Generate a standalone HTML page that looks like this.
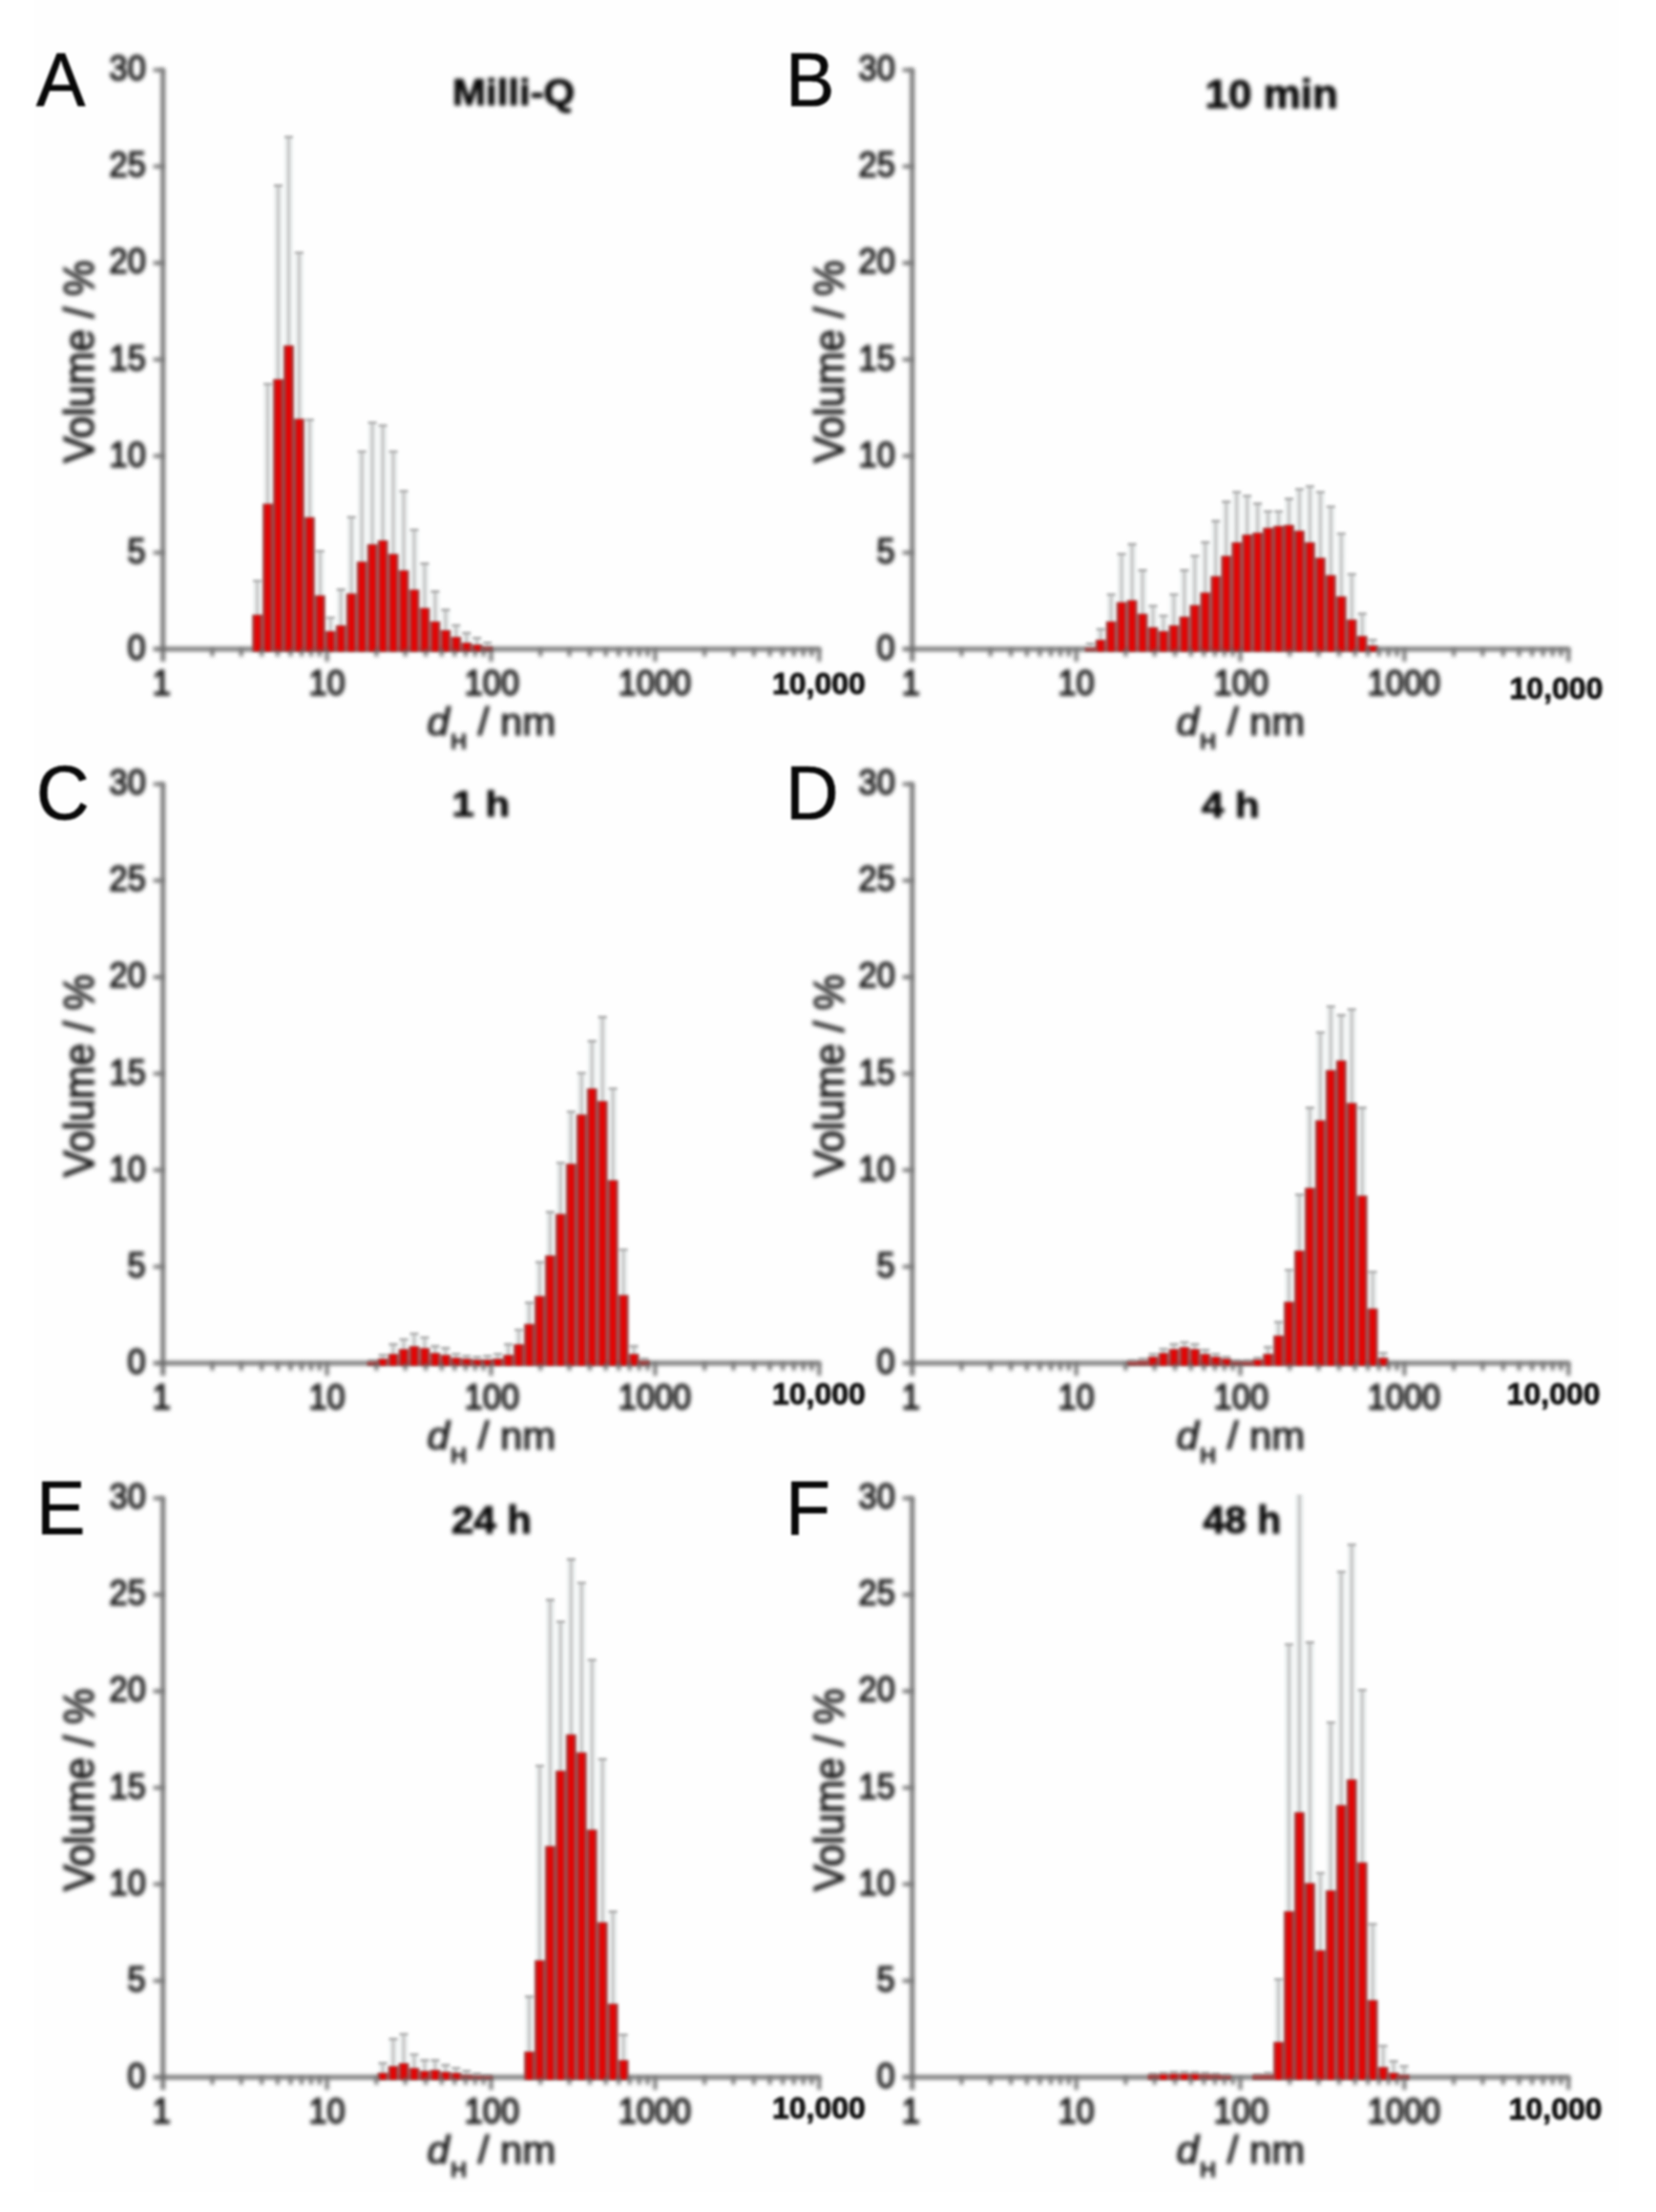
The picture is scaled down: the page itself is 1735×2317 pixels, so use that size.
<!DOCTYPE html>
<html lang="en"><head><meta charset="utf-8"><title>Figure</title>
<style>
html,body{margin:0;padding:0;background:#fff;}
body{width:1735px;height:2317px;overflow:hidden;}
svg{display:block;font-family:"Liberation Sans",sans-serif;}
.soft{filter:blur(2px);}
.bars{filter:blur(1.5px);}
.med{filter:blur(1.4px);}
.crisp{filter:blur(0.9px);}
</style></head><body>
<svg width="1735" height="2317" viewBox="0 0 1735 2317">
<rect x="0" y="0" width="1735" height="2317" fill="#ffffff"/>
<rect x="36" y="0" width="1660" height="2296" fill="#fefefe"/>
<g class="soft">
<path d="M170.7 71.8V692.9M160.7 679.9H859.8" stroke="#6a6a6a" stroke-width="4.4" fill="none"/>
<path d="M955.7 71.8V692.9M945.7 679.9H1644.8" stroke="#6a6a6a" stroke-width="4.4" fill="none"/>
<path d="M170.7 819.8V1440.9M160.7 1427.9H859.8" stroke="#6a6a6a" stroke-width="4.4" fill="none"/>
<path d="M955.7 819.8V1440.9M945.7 1427.9H1644.8" stroke="#6a6a6a" stroke-width="4.4" fill="none"/>
<path d="M170.7 1567.8V2188.9M160.7 2175.9H859.8" stroke="#6a6a6a" stroke-width="4.4" fill="none"/>
<path d="M955.7 1567.8V2188.9M945.7 2175.9H1644.8" stroke="#6a6a6a" stroke-width="4.4" fill="none"/>
</g>
<g class="bars">
<path d="M269.58 644.51V607.53M280.54 528.25V401.29M291.5 397.83V193.42M302.46 362.45V142.47M313.42 439.28V263.79M324.38 542.4V438.69M335.34 624.29V576.19M346.3 661.7V645.95M357.26 655.64V616.63M368.22 622.27V540.8M379.18 588.91V472.06M390.14 570.71V441.73M401.1 566.67V444.76M412.05 580.82V472.06M423.01 598.01V513.51M433.97 618.23V553.95M444.93 637.44V589.33M455.89 651.59V618.65M466.85 660.69V637.86M477.81 667.77V654.04M488.77 673.83V662.12M499.73 675.86V667.18M510.69 677.88V672.23" stroke="#e2e8e8" stroke-width="9" fill="none" opacity="0.65"/>
<path d="M269.58 644.51V607.53M280.54 528.25V401.29M291.5 397.83V193.42M302.46 362.45V142.47M313.42 439.28V263.79M324.38 542.4V438.69M335.34 624.29V576.19M346.3 661.7V645.95M357.26 655.64V616.63M368.22 622.27V540.8M379.18 588.91V472.06M390.14 570.71V441.73M401.1 566.67V444.76M412.05 580.82V472.06M423.01 598.01V513.51M433.97 618.23V553.95M444.93 637.44V589.33M455.89 651.59V618.65M466.85 660.69V637.86M477.81 667.77V654.04M488.77 673.83V662.12M499.73 675.86V667.18M510.69 677.88V672.23" stroke="#c9c9c9" stroke-width="3.4" fill="none"/>
<path d="M265.08 608.53H274.08M276.04 402.29H285.04M287 194.42H296M297.96 143.47H306.96M308.92 264.79H317.92M319.88 439.69H328.88M330.84 577.19H339.84M341.8 646.95H350.8M352.76 617.63H361.76M363.72 541.8H372.72M374.68 473.06H383.68M385.64 442.73H394.64M396.6 445.76H405.6M407.55 473.06H416.55M418.51 514.51H427.51M429.47 554.95H438.47M440.43 590.33H449.43M451.39 619.65H460.39M462.35 638.86H471.35M473.31 655.04H482.31M484.27 663.12H493.27M495.23 668.18H504.23M506.19 673.23H515.19" stroke="#adadad" stroke-width="2.6" fill="none"/>
<g fill="#a04242"><rect x="264.1" y="643.81" width="10.96" height="38.48"/><rect x="275.06" y="527.55" width="10.96" height="154.75"/><rect x="286.02" y="397.13" width="10.96" height="285.17"/><rect x="296.98" y="361.75" width="10.96" height="320.55"/><rect x="307.94" y="438.58" width="10.96" height="243.72"/><rect x="318.9" y="541.7" width="10.96" height="140.6"/><rect x="329.86" y="623.6" width="10.96" height="58.7"/><rect x="340.82" y="661" width="10.96" height="21.3"/><rect x="351.78" y="654.94" width="10.96" height="27.36"/><rect x="362.74" y="621.57" width="10.96" height="60.73"/><rect x="373.7" y="588.21" width="10.96" height="94.09"/><rect x="384.66" y="570.01" width="10.96" height="112.29"/><rect x="395.62" y="565.97" width="10.96" height="116.33"/><rect x="406.57" y="580.12" width="10.96" height="102.18"/><rect x="417.53" y="597.31" width="10.96" height="84.99"/><rect x="428.49" y="617.53" width="10.96" height="64.77"/><rect x="439.45" y="636.74" width="10.96" height="45.56"/><rect x="450.41" y="650.89" width="10.96" height="31.41"/><rect x="461.37" y="659.99" width="10.96" height="22.31"/><rect x="472.33" y="667.07" width="10.96" height="15.23"/><rect x="483.29" y="673.13" width="10.96" height="9.17"/><rect x="494.25" y="675.16" width="10.96" height="7.14"/><rect x="505.21" y="677.18" width="10.96" height="5.12"/></g>
<g fill="#e40404"><rect x="266.63" y="644.61" width="5.9" height="37.69"/><rect x="277.59" y="528.35" width="5.9" height="153.95"/><rect x="288.55" y="397.93" width="5.9" height="284.37"/><rect x="299.51" y="362.55" width="5.9" height="319.75"/><rect x="310.47" y="439.38" width="5.9" height="242.92"/><rect x="321.43" y="542.5" width="5.9" height="139.8"/><rect x="332.39" y="624.39" width="5.9" height="57.91"/><rect x="343.35" y="661.8" width="5.9" height="20.5"/><rect x="354.31" y="655.74" width="5.9" height="26.56"/><rect x="365.27" y="622.37" width="5.9" height="59.93"/><rect x="376.23" y="589.01" width="5.9" height="93.29"/><rect x="387.19" y="570.81" width="5.9" height="111.49"/><rect x="398.15" y="566.77" width="5.9" height="115.53"/><rect x="409.1" y="580.92" width="5.9" height="101.38"/><rect x="420.06" y="598.11" width="5.9" height="84.19"/><rect x="431.02" y="618.33" width="5.9" height="63.97"/><rect x="441.98" y="637.54" width="5.9" height="44.76"/><rect x="452.94" y="651.69" width="5.9" height="30.61"/><rect x="463.9" y="660.79" width="5.9" height="21.51"/><rect x="474.86" y="667.87" width="5.9" height="14.43"/><rect x="485.82" y="673.93" width="5.9" height="8.37"/><rect x="496.78" y="675.96" width="5.9" height="6.34"/></g>
<path d="M1142.26 678.89V673.25M1153.22 670.8V658.08M1164.18 651.59V621.68M1175.14 631.37V579.22M1186.1 629.35V569.11M1197.05 643.5V596.41M1208.01 657.66V633.82M1218.97 661.7V643.93M1229.93 655.64V621.68M1240.89 646.54V596.41M1251.85 634.4V581.24M1262.81 621.26V567.09M1273.77 604.08V544.85M1284.73 582.84V524.63M1295.69 568.69V514.52M1306.65 560.6V518.56M1317.61 558.58V526.65M1328.57 553.52V534.74M1339.53 551.5V534.74M1350.49 550.49V521.6M1361.44 556.56V511.49M1372.4 568.69V508.45M1383.36 584.87V514.52M1394.32 603.06V529.68M1405.28 625.31V557.99M1416.24 649.57V600.45M1427.2 666.76V641.9M1438.16 676.87V669.2" stroke="#e2e8e8" stroke-width="9" fill="none" opacity="0.65"/>
<path d="M1142.26 678.89V673.25M1153.22 670.8V658.08M1164.18 651.59V621.68M1175.14 631.37V579.22M1186.1 629.35V569.11M1197.05 643.5V596.41M1208.01 657.66V633.82M1218.97 661.7V643.93M1229.93 655.64V621.68M1240.89 646.54V596.41M1251.85 634.4V581.24M1262.81 621.26V567.09M1273.77 604.08V544.85M1284.73 582.84V524.63M1295.69 568.69V514.52M1306.65 560.6V518.56M1317.61 558.58V526.65M1328.57 553.52V534.74M1339.53 551.5V534.74M1350.49 550.49V521.6M1361.44 556.56V511.49M1372.4 568.69V508.45M1383.36 584.87V514.52M1394.32 603.06V529.68M1405.28 625.31V557.99M1416.24 649.57V600.45M1427.2 666.76V641.9M1438.16 676.87V669.2" stroke="#c9c9c9" stroke-width="3.4" fill="none"/>
<path d="M1137.76 674.25H1146.76M1148.72 659.08H1157.72M1159.68 622.68H1168.68M1170.64 580.22H1179.64M1181.6 570.11H1190.6M1192.55 597.41H1201.55M1203.51 634.82H1212.51M1214.47 644.93H1223.47M1225.43 622.68H1234.43M1236.39 597.41H1245.39M1247.35 582.24H1256.35M1258.31 568.09H1267.31M1269.27 545.85H1278.27M1280.23 525.63H1289.23M1291.19 515.52H1300.19M1302.15 519.56H1311.15M1313.11 527.65H1322.11M1324.07 535.74H1333.07M1335.03 535.74H1344.03M1345.99 522.6H1354.99M1356.94 512.49H1365.94M1367.9 509.45H1376.9M1378.86 515.52H1387.86M1389.82 530.68H1398.82M1400.78 558.99H1409.78M1411.74 601.45H1420.74M1422.7 642.9H1431.7M1433.66 670.2H1442.66" stroke="#adadad" stroke-width="2.6" fill="none"/>
<g fill="#a04242"><rect x="1136.78" y="678.19" width="10.96" height="4.11"/><rect x="1147.74" y="670.1" width="10.96" height="12.2"/><rect x="1158.7" y="650.89" width="10.96" height="31.41"/><rect x="1169.66" y="630.67" width="10.96" height="51.63"/><rect x="1180.62" y="628.65" width="10.96" height="53.65"/><rect x="1191.57" y="642.8" width="10.96" height="39.5"/><rect x="1202.53" y="656.96" width="10.96" height="25.34"/><rect x="1213.49" y="661" width="10.96" height="21.3"/><rect x="1224.45" y="654.94" width="10.96" height="27.36"/><rect x="1235.41" y="645.84" width="10.96" height="36.46"/><rect x="1246.37" y="633.7" width="10.96" height="48.59"/><rect x="1257.33" y="620.56" width="10.96" height="61.74"/><rect x="1268.29" y="603.38" width="10.96" height="78.92"/><rect x="1279.25" y="582.14" width="10.96" height="100.16"/><rect x="1290.21" y="567.99" width="10.96" height="114.31"/><rect x="1301.17" y="559.9" width="10.96" height="122.4"/><rect x="1312.13" y="557.88" width="10.96" height="124.42"/><rect x="1323.09" y="552.82" width="10.96" height="129.47"/><rect x="1334.05" y="550.8" width="10.96" height="131.5"/><rect x="1345.01" y="549.79" width="10.96" height="132.51"/><rect x="1355.96" y="555.86" width="10.96" height="126.44"/><rect x="1366.92" y="567.99" width="10.96" height="114.31"/><rect x="1377.88" y="584.17" width="10.96" height="98.13"/><rect x="1388.84" y="602.36" width="10.96" height="79.94"/><rect x="1399.8" y="624.61" width="10.96" height="57.69"/><rect x="1410.76" y="648.87" width="10.96" height="33.43"/><rect x="1421.72" y="666.06" width="10.96" height="16.24"/><rect x="1432.68" y="676.17" width="10.96" height="6.13"/></g>
<g fill="#e40404"><rect x="1150.27" y="670.9" width="5.9" height="11.4"/><rect x="1161.23" y="651.69" width="5.9" height="30.61"/><rect x="1172.19" y="631.47" width="5.9" height="50.83"/><rect x="1183.15" y="629.45" width="5.9" height="52.85"/><rect x="1194.1" y="643.6" width="5.9" height="38.7"/><rect x="1205.06" y="657.76" width="5.9" height="24.54"/><rect x="1216.02" y="661.8" width="5.9" height="20.5"/><rect x="1226.98" y="655.74" width="5.9" height="26.56"/><rect x="1237.94" y="646.64" width="5.9" height="35.66"/><rect x="1248.9" y="634.5" width="5.9" height="47.8"/><rect x="1259.86" y="621.36" width="5.9" height="60.94"/><rect x="1270.82" y="604.17" width="5.9" height="78.12"/><rect x="1281.78" y="582.94" width="5.9" height="99.36"/><rect x="1292.74" y="568.79" width="5.9" height="113.51"/><rect x="1303.7" y="560.7" width="5.9" height="121.6"/><rect x="1314.66" y="558.68" width="5.9" height="123.62"/><rect x="1325.62" y="553.62" width="5.9" height="128.67"/><rect x="1336.58" y="551.6" width="5.9" height="130.7"/><rect x="1347.54" y="550.59" width="5.9" height="131.71"/><rect x="1358.49" y="556.66" width="5.9" height="125.64"/><rect x="1369.45" y="568.79" width="5.9" height="113.51"/><rect x="1380.41" y="584.97" width="5.9" height="97.33"/><rect x="1391.37" y="603.16" width="5.9" height="79.14"/><rect x="1402.33" y="625.41" width="5.9" height="56.89"/><rect x="1413.29" y="649.67" width="5.9" height="32.63"/><rect x="1424.25" y="666.86" width="5.9" height="15.44"/><rect x="1435.21" y="676.97" width="5.9" height="5.33"/></g>
<path d="M390.14 1426.89V1424.28M401.1 1423.86V1418.21M412.05 1418.8V1407.09M423.01 1413.75V1402.04M433.97 1410.71V1395.97M444.93 1412.74V1400.01M455.89 1417.79V1409.11M466.85 1419.81V1411.14M477.81 1422.85V1417.2M488.77 1423.86V1419.22M499.73 1424.87V1420.23M510.69 1424.87V1419.22M521.65 1423.86V1417.2M532.61 1419.81V1407.09M543.57 1408.69V1391.93M554.53 1387.46V1363.62M565.49 1358.14V1321.16M576.44 1315.68V1268.58M587.4 1272.21V1217.02M598.36 1219.63V1163.44M609.32 1168.07V1123M620.28 1140.78V1089.64M631.24 1153.92V1064.36M642.2 1236.82V1139.18M653.16 1357.13V1308.01M664.12 1418.8V1409.11M675.08 1425.88V1422.26" stroke="#e2e8e8" stroke-width="9" fill="none" opacity="0.65"/>
<path d="M390.14 1426.89V1424.28M401.1 1423.86V1418.21M412.05 1418.8V1407.09M423.01 1413.75V1402.04M433.97 1410.71V1395.97M444.93 1412.74V1400.01M455.89 1417.79V1409.11M466.85 1419.81V1411.14M477.81 1422.85V1417.2M488.77 1423.86V1419.22M499.73 1424.87V1420.23M510.69 1424.87V1419.22M521.65 1423.86V1417.2M532.61 1419.81V1407.09M543.57 1408.69V1391.93M554.53 1387.46V1363.62M565.49 1358.14V1321.16M576.44 1315.68V1268.58M587.4 1272.21V1217.02M598.36 1219.63V1163.44M609.32 1168.07V1123M620.28 1140.78V1089.64M631.24 1153.92V1064.36M642.2 1236.82V1139.18M653.16 1357.13V1308.01M664.12 1418.8V1409.11M675.08 1425.88V1422.26" stroke="#c9c9c9" stroke-width="3.4" fill="none"/>
<path d="M385.64 1425.28H394.64M396.6 1419.21H405.6M407.55 1408.09H416.55M418.51 1403.04H427.51M429.47 1396.97H438.47M440.43 1401.01H449.43M451.39 1410.11H460.39M462.35 1412.14H471.35M473.31 1418.2H482.31M484.27 1420.22H493.27M495.23 1421.23H504.23M506.19 1420.22H515.19M517.15 1418.2H526.15M528.11 1408.09H537.11M539.07 1392.93H548.07M550.03 1364.62H559.03M560.99 1322.16H569.99M571.94 1269.58H580.94M582.9 1218.02H591.9M593.86 1164.44H602.86M604.82 1124H613.82M615.78 1090.64H624.78M626.74 1065.36H635.74M637.7 1140.18H646.7M648.66 1309.01H657.66M659.62 1410.11H668.62M670.58 1423.26H679.58" stroke="#adadad" stroke-width="2.6" fill="none"/>
<g fill="#a04242"><rect x="384.66" y="1426.19" width="10.96" height="4.11"/><rect x="395.62" y="1423.16" width="10.96" height="7.14"/><rect x="406.57" y="1418.1" width="10.96" height="12.2"/><rect x="417.53" y="1413.05" width="10.96" height="17.25"/><rect x="428.49" y="1410.01" width="10.96" height="20.29"/><rect x="439.45" y="1412.04" width="10.96" height="18.26"/><rect x="450.41" y="1417.09" width="10.96" height="13.21"/><rect x="461.37" y="1419.11" width="10.96" height="11.19"/><rect x="472.33" y="1422.14" width="10.96" height="8.15"/><rect x="483.29" y="1423.16" width="10.96" height="7.14"/><rect x="494.25" y="1424.17" width="10.96" height="6.13"/><rect x="505.21" y="1424.17" width="10.96" height="6.13"/><rect x="516.17" y="1423.16" width="10.96" height="7.14"/><rect x="527.13" y="1419.11" width="10.96" height="11.19"/><rect x="538.09" y="1407.99" width="10.96" height="22.31"/><rect x="549.05" y="1386.76" width="10.96" height="43.54"/><rect x="560.01" y="1357.44" width="10.96" height="72.86"/><rect x="570.96" y="1314.98" width="10.96" height="115.32"/><rect x="581.92" y="1271.51" width="10.96" height="158.79"/><rect x="592.88" y="1218.93" width="10.96" height="211.37"/><rect x="603.84" y="1167.37" width="10.96" height="262.93"/><rect x="614.8" y="1140.08" width="10.96" height="290.22"/><rect x="625.76" y="1153.22" width="10.96" height="277.08"/><rect x="636.72" y="1236.12" width="10.96" height="194.18"/><rect x="647.68" y="1356.43" width="10.96" height="73.87"/><rect x="658.64" y="1418.1" width="10.96" height="12.2"/><rect x="669.6" y="1425.18" width="10.96" height="5.12"/></g>
<g fill="#e40404"><rect x="398.15" y="1423.96" width="5.9" height="6.34"/><rect x="409.1" y="1418.9" width="5.9" height="11.4"/><rect x="420.06" y="1413.85" width="5.9" height="16.45"/><rect x="431.02" y="1410.81" width="5.9" height="19.49"/><rect x="441.98" y="1412.84" width="5.9" height="17.46"/><rect x="452.94" y="1417.89" width="5.9" height="12.41"/><rect x="463.9" y="1419.91" width="5.9" height="10.39"/><rect x="474.86" y="1422.94" width="5.9" height="7.35"/><rect x="485.82" y="1423.96" width="5.9" height="6.34"/><rect x="496.78" y="1424.97" width="5.9" height="5.33"/><rect x="507.74" y="1424.97" width="5.9" height="5.33"/><rect x="518.7" y="1423.96" width="5.9" height="6.34"/><rect x="529.66" y="1419.91" width="5.9" height="10.39"/><rect x="540.62" y="1408.79" width="5.9" height="21.51"/><rect x="551.58" y="1387.56" width="5.9" height="42.74"/><rect x="562.54" y="1358.24" width="5.9" height="72.06"/><rect x="573.49" y="1315.78" width="5.9" height="114.52"/><rect x="584.45" y="1272.31" width="5.9" height="157.99"/><rect x="595.41" y="1219.73" width="5.9" height="210.57"/><rect x="606.37" y="1168.17" width="5.9" height="262.13"/><rect x="617.33" y="1140.88" width="5.9" height="289.42"/><rect x="628.29" y="1154.02" width="5.9" height="276.28"/><rect x="639.25" y="1236.92" width="5.9" height="193.38"/><rect x="650.21" y="1357.23" width="5.9" height="73.07"/><rect x="661.17" y="1418.9" width="5.9" height="11.4"/></g>
<path d="M1186.1 1426.89V1424.28M1197.05 1425.88V1422.26M1208.01 1421.83V1417.2M1218.97 1417.79V1412.15M1229.93 1413.75V1407.09M1240.89 1411.72V1405.07M1251.85 1413.75V1407.09M1262.81 1418.8V1413.16M1273.77 1421.83V1417.2M1284.73 1423.86V1420.23M1295.69 1426.89V1424.28M1306.65 1426.89V1424.28M1317.61 1424.87V1421.25M1328.57 1418.8V1410.12M1339.53 1399.59V1383.84M1350.49 1364.21V1329.24M1361.44 1310.62V1250.39M1372.4 1244.91V1159.4M1383.36 1174.14V1080.54M1394.32 1121.57V1053.24M1405.28 1111.46V1062.34M1416.24 1155.94V1056.27M1427.2 1253V1159.4M1438.16 1371.28V1331.27M1449.12 1422.85V1416.19" stroke="#e2e8e8" stroke-width="9" fill="none" opacity="0.65"/>
<path d="M1186.1 1426.89V1424.28M1197.05 1425.88V1422.26M1208.01 1421.83V1417.2M1218.97 1417.79V1412.15M1229.93 1413.75V1407.09M1240.89 1411.72V1405.07M1251.85 1413.75V1407.09M1262.81 1418.8V1413.16M1273.77 1421.83V1417.2M1284.73 1423.86V1420.23M1295.69 1426.89V1424.28M1306.65 1426.89V1424.28M1317.61 1424.87V1421.25M1328.57 1418.8V1410.12M1339.53 1399.59V1383.84M1350.49 1364.21V1329.24M1361.44 1310.62V1250.39M1372.4 1244.91V1159.4M1383.36 1174.14V1080.54M1394.32 1121.57V1053.24M1405.28 1111.46V1062.34M1416.24 1155.94V1056.27M1427.2 1253V1159.4M1438.16 1371.28V1331.27M1449.12 1422.85V1416.19" stroke="#c9c9c9" stroke-width="3.4" fill="none"/>
<path d="M1181.6 1425.28H1190.6M1192.55 1423.26H1201.55M1203.51 1418.2H1212.51M1214.47 1413.15H1223.47M1225.43 1408.09H1234.43M1236.39 1406.07H1245.39M1247.35 1408.09H1256.35M1258.31 1414.16H1267.31M1269.27 1418.2H1278.27M1280.23 1421.23H1289.23M1291.19 1425.28H1300.19M1302.15 1425.28H1311.15M1313.11 1422.25H1322.11M1324.07 1411.12H1333.07M1335.03 1384.84H1344.03M1345.99 1330.24H1354.99M1356.94 1251.39H1365.94M1367.9 1160.4H1376.9M1378.86 1081.54H1387.86M1389.82 1054.24H1398.82M1400.78 1063.34H1409.78M1411.74 1057.27H1420.74M1422.7 1160.4H1431.7M1433.66 1332.27H1442.66M1444.62 1417.19H1453.62" stroke="#adadad" stroke-width="2.6" fill="none"/>
<g fill="#a04242"><rect x="1180.62" y="1426.19" width="10.96" height="4.11"/><rect x="1191.57" y="1425.18" width="10.96" height="5.12"/><rect x="1202.53" y="1421.13" width="10.96" height="9.17"/><rect x="1213.49" y="1417.09" width="10.96" height="13.21"/><rect x="1224.45" y="1413.05" width="10.96" height="17.25"/><rect x="1235.41" y="1411.02" width="10.96" height="19.28"/><rect x="1246.37" y="1413.05" width="10.96" height="17.25"/><rect x="1257.33" y="1418.1" width="10.96" height="12.2"/><rect x="1268.29" y="1421.13" width="10.96" height="9.17"/><rect x="1279.25" y="1423.16" width="10.96" height="7.14"/><rect x="1290.21" y="1426.19" width="10.96" height="4.11"/><rect x="1301.17" y="1426.19" width="10.96" height="4.11"/><rect x="1312.13" y="1424.17" width="10.96" height="6.13"/><rect x="1323.09" y="1418.1" width="10.96" height="12.2"/><rect x="1334.05" y="1398.89" width="10.96" height="31.41"/><rect x="1345.01" y="1363.51" width="10.96" height="66.79"/><rect x="1355.96" y="1309.92" width="10.96" height="120.38"/><rect x="1366.92" y="1244.21" width="10.96" height="186.09"/><rect x="1377.88" y="1173.44" width="10.96" height="256.86"/><rect x="1388.84" y="1120.87" width="10.96" height="309.43"/><rect x="1399.8" y="1110.76" width="10.96" height="319.54"/><rect x="1410.76" y="1155.24" width="10.96" height="275.06"/><rect x="1421.72" y="1252.3" width="10.96" height="178"/><rect x="1432.68" y="1370.58" width="10.96" height="59.72"/><rect x="1443.64" y="1422.14" width="10.96" height="8.15"/></g>
<g fill="#e40404"><rect x="1205.06" y="1421.93" width="5.9" height="8.37"/><rect x="1216.02" y="1417.89" width="5.9" height="12.41"/><rect x="1226.98" y="1413.85" width="5.9" height="16.45"/><rect x="1237.94" y="1411.82" width="5.9" height="18.48"/><rect x="1248.9" y="1413.85" width="5.9" height="16.45"/><rect x="1259.86" y="1418.9" width="5.9" height="11.4"/><rect x="1270.82" y="1421.93" width="5.9" height="8.37"/><rect x="1281.78" y="1423.96" width="5.9" height="6.34"/><rect x="1314.66" y="1424.97" width="5.9" height="5.33"/><rect x="1325.62" y="1418.9" width="5.9" height="11.4"/><rect x="1336.58" y="1399.69" width="5.9" height="30.61"/><rect x="1347.54" y="1364.31" width="5.9" height="65.99"/><rect x="1358.49" y="1310.72" width="5.9" height="119.58"/><rect x="1369.45" y="1245.01" width="5.9" height="185.29"/><rect x="1380.41" y="1174.24" width="5.9" height="256.06"/><rect x="1391.37" y="1121.67" width="5.9" height="308.63"/><rect x="1402.33" y="1111.56" width="5.9" height="318.74"/><rect x="1413.29" y="1156.04" width="5.9" height="274.26"/><rect x="1424.25" y="1253.1" width="5.9" height="177.2"/><rect x="1435.21" y="1371.38" width="5.9" height="58.92"/><rect x="1446.17" y="1422.94" width="5.9" height="7.35"/></g>
<path d="M401.1 2171.86V2160.15M412.05 2164.78V2134.87M423.01 2161.75V2129.82M433.97 2166.8V2151.05M444.93 2169.83V2157.11M455.89 2168.82V2157.11M466.85 2170.85V2162.17M477.81 2171.86V2165.2M488.77 2173.88V2168.23M499.73 2174.89V2171.27M510.69 2175.29V2173.29M554.53 2149.61V2090.39M565.49 2053.97V1848.76M576.44 1934.27V1674.87M587.4 1855.41V1697.71M598.36 1817.4V1632.4M609.32 1836.2V1657.07M620.28 1917.08V1737.75M631.24 2014.14V1841.68M642.2 2099.47V2001.42M653.16 2158.51V2130.42" stroke="#e2e8e8" stroke-width="9" fill="none" opacity="0.65"/>
<path d="M401.1 2171.86V2160.15M412.05 2164.78V2134.87M423.01 2161.75V2129.82M433.97 2166.8V2151.05M444.93 2169.83V2157.11M455.89 2168.82V2157.11M466.85 2170.85V2162.17M477.81 2171.86V2165.2M488.77 2173.88V2168.23M499.73 2174.89V2171.27M510.69 2175.29V2173.29M554.53 2149.61V2090.39M565.49 2053.97V1848.76M576.44 1934.27V1674.87M587.4 1855.41V1697.71M598.36 1817.4V1632.4M609.32 1836.2V1657.07M620.28 1917.08V1737.75M631.24 2014.14V1841.68M642.2 2099.47V2001.42M653.16 2158.51V2130.42" stroke="#c9c9c9" stroke-width="3.4" fill="none"/>
<path d="M396.6 2161.15H405.6M407.55 2135.87H416.55M418.51 2130.82H427.51M429.47 2152.05H438.47M440.43 2158.11H449.43M451.39 2158.11H460.39M462.35 2163.17H471.35M473.31 2166.2H482.31M484.27 2169.23H493.27M495.23 2172.27H504.23M506.19 2174.29H515.19M550.03 2091.39H559.03M560.99 1849.76H569.99M571.94 1675.87H580.94M582.9 1698.71H591.9M593.86 1633.4H602.86M604.82 1658.07H613.82M615.78 1738.75H624.78M626.74 1842.68H635.74M637.7 2002.42H646.7M648.66 2131.42H657.66" stroke="#adadad" stroke-width="2.6" fill="none"/>
<g fill="#a04242"><rect x="395.62" y="2171.16" width="10.96" height="7.14"/><rect x="406.57" y="2164.08" width="10.96" height="14.22"/><rect x="417.53" y="2161.05" width="10.96" height="17.25"/><rect x="428.49" y="2166.1" width="10.96" height="12.2"/><rect x="439.45" y="2169.13" width="10.96" height="9.17"/><rect x="450.41" y="2168.12" width="10.96" height="10.18"/><rect x="461.37" y="2170.14" width="10.96" height="8.15"/><rect x="472.33" y="2171.16" width="10.96" height="7.14"/><rect x="483.29" y="2173.18" width="10.96" height="5.12"/><rect x="494.25" y="2174.19" width="10.96" height="4.11"/><rect x="505.21" y="2174.59" width="10.96" height="3.71"/><rect x="549.05" y="2148.91" width="10.96" height="29.39"/><rect x="560.01" y="2053.27" width="10.96" height="125.03"/><rect x="570.96" y="1933.57" width="10.96" height="244.73"/><rect x="581.92" y="1854.71" width="10.96" height="323.59"/><rect x="592.88" y="1816.7" width="10.96" height="361.6"/><rect x="603.84" y="1835.5" width="10.96" height="342.8"/><rect x="614.8" y="1916.38" width="10.96" height="261.92"/><rect x="625.76" y="2013.44" width="10.96" height="164.86"/><rect x="636.72" y="2098.77" width="10.96" height="79.53"/><rect x="647.68" y="2157.81" width="10.96" height="20.49"/></g>
<g fill="#e40404"><rect x="398.15" y="2171.96" width="5.9" height="6.34"/><rect x="409.1" y="2164.88" width="5.9" height="13.42"/><rect x="420.06" y="2161.85" width="5.9" height="16.45"/><rect x="431.02" y="2166.9" width="5.9" height="11.4"/><rect x="441.98" y="2169.93" width="5.9" height="8.37"/><rect x="452.94" y="2168.92" width="5.9" height="9.38"/><rect x="463.9" y="2170.95" width="5.9" height="7.35"/><rect x="474.86" y="2171.96" width="5.9" height="6.34"/><rect x="551.58" y="2149.71" width="5.9" height="28.59"/><rect x="562.54" y="2054.07" width="5.9" height="124.23"/><rect x="573.49" y="1934.37" width="5.9" height="243.93"/><rect x="584.45" y="1855.51" width="5.9" height="322.79"/><rect x="595.41" y="1817.5" width="5.9" height="360.8"/><rect x="606.37" y="1836.3" width="5.9" height="342"/><rect x="617.33" y="1917.18" width="5.9" height="261.12"/><rect x="628.29" y="2014.24" width="5.9" height="164.06"/><rect x="639.25" y="2099.57" width="5.9" height="78.73"/><rect x="650.21" y="2158.61" width="5.9" height="19.69"/></g>
<path d="M1208.01 2173.88V2171.27M1218.97 2173.27V2170.26M1229.93 2172.87V2169.24M1240.89 2172.87V2169.24M1251.85 2173.07V2169.85M1262.81 2173.47V2170.26M1273.77 2173.88V2171.27M1284.73 2174.89V2172.28M1317.61 2174.28V2172.28M1328.57 2173.88V2170.26M1339.53 2139.5V2072.19M1350.49 2002.61V1721.57M1361.44 1898.89V1565.5M1372.4 1973.09V1719.35M1383.36 2043.46V1960.98M1394.32 1980.78V1803.26M1405.28 1891.4V1645.55M1416.24 1864.51V1617.04M1427.2 1951.46V1769.29M1438.16 2095.63V2014.56M1449.12 2165.79V2141.95M1460.08 2171.86V2158.12M1471.04 2173.88V2163.18" stroke="#e2e8e8" stroke-width="9" fill="none" opacity="0.65"/>
<path d="M1208.01 2173.88V2171.27M1218.97 2173.27V2170.26M1229.93 2172.87V2169.24M1240.89 2172.87V2169.24M1251.85 2173.07V2169.85M1262.81 2173.47V2170.26M1273.77 2173.88V2171.27M1284.73 2174.89V2172.28M1317.61 2174.28V2172.28M1328.57 2173.88V2170.26M1339.53 2139.5V2072.19M1350.49 2002.61V1721.57M1361.44 1898.89V1565.5M1372.4 1973.09V1719.35M1383.36 2043.46V1960.98M1394.32 1980.78V1803.26M1405.28 1891.4V1645.55M1416.24 1864.51V1617.04M1427.2 1951.46V1769.29M1438.16 2095.63V2014.56M1449.12 2165.79V2141.95M1460.08 2171.86V2158.12M1471.04 2173.88V2163.18" stroke="#c9c9c9" stroke-width="3.4" fill="none"/>
<path d="M1203.51 2172.27H1212.51M1214.47 2171.26H1223.47M1225.43 2170.24H1234.43M1236.39 2170.24H1245.39M1247.35 2170.85H1256.35M1258.31 2171.26H1267.31M1269.27 2172.27H1278.27M1280.23 2173.28H1289.23M1313.11 2173.28H1322.11M1324.07 2171.26H1333.07M1335.03 2073.19H1344.03M1345.99 1722.57H1354.99M1367.9 1720.35H1376.9M1378.86 1961.98H1387.86M1389.82 1804.26H1398.82M1400.78 1646.55H1409.78M1411.74 1618.04H1420.74M1422.7 1770.29H1431.7M1433.66 2015.56H1442.66M1444.62 2142.95H1453.62M1455.58 2159.12H1464.58M1466.54 2164.18H1475.54" stroke="#adadad" stroke-width="2.6" fill="none"/>
<g fill="#a04242"><rect x="1202.53" y="2173.18" width="10.96" height="5.12"/><rect x="1213.49" y="2172.57" width="10.96" height="5.73"/><rect x="1224.45" y="2172.17" width="10.96" height="6.13"/><rect x="1235.41" y="2172.17" width="10.96" height="6.13"/><rect x="1246.37" y="2172.37" width="10.96" height="5.93"/><rect x="1257.33" y="2172.77" width="10.96" height="5.53"/><rect x="1268.29" y="2173.18" width="10.96" height="5.12"/><rect x="1279.25" y="2174.19" width="10.96" height="4.11"/><rect x="1312.13" y="2173.58" width="10.96" height="4.72"/><rect x="1323.09" y="2173.18" width="10.96" height="5.12"/><rect x="1334.05" y="2138.8" width="10.96" height="39.5"/><rect x="1345.01" y="2001.91" width="10.96" height="176.39"/><rect x="1355.96" y="1898.19" width="10.96" height="280.11"/><rect x="1366.92" y="1972.39" width="10.96" height="205.91"/><rect x="1377.88" y="2042.76" width="10.96" height="135.54"/><rect x="1388.84" y="1980.08" width="10.96" height="198.22"/><rect x="1399.8" y="1890.7" width="10.96" height="287.6"/><rect x="1410.76" y="1863.81" width="10.96" height="314.49"/><rect x="1421.72" y="1950.76" width="10.96" height="227.54"/><rect x="1432.68" y="2094.93" width="10.96" height="83.37"/><rect x="1443.64" y="2165.09" width="10.96" height="13.21"/><rect x="1454.6" y="2171.16" width="10.96" height="7.14"/><rect x="1465.56" y="2173.18" width="10.96" height="5.12"/></g>
<g fill="#e40404"><rect x="1216.02" y="2173.37" width="5.9" height="4.93"/><rect x="1226.98" y="2172.97" width="5.9" height="5.33"/><rect x="1237.94" y="2172.97" width="5.9" height="5.33"/><rect x="1248.9" y="2173.17" width="5.9" height="5.13"/><rect x="1336.58" y="2139.6" width="5.9" height="38.7"/><rect x="1347.54" y="2002.71" width="5.9" height="175.59"/><rect x="1358.49" y="1898.99" width="5.9" height="279.31"/><rect x="1369.45" y="1973.19" width="5.9" height="205.11"/><rect x="1380.41" y="2043.56" width="5.9" height="134.74"/><rect x="1391.37" y="1980.88" width="5.9" height="197.42"/><rect x="1402.33" y="1891.5" width="5.9" height="286.8"/><rect x="1413.29" y="1864.61" width="5.9" height="313.69"/><rect x="1424.25" y="1951.56" width="5.9" height="226.74"/><rect x="1435.21" y="2095.73" width="5.9" height="82.57"/><rect x="1446.17" y="2165.89" width="5.9" height="12.41"/><rect x="1457.13" y="2171.96" width="5.9" height="6.34"/></g>
</g>
<g class="soft">
<g>
<path d="M160.7 578.8H170.7M160.7 477.7H170.7M160.7 376.6H170.7M160.7 275.5H170.7M160.7 174.4H170.7M160.7 73.3H170.7M222.45 679.9V687.4M252.72 679.9V687.4M274.19 679.9V687.4M290.85 679.9V687.4M304.46 679.9V687.4M315.97 679.9V687.4M325.94 679.9V687.4M334.73 679.9V687.4M342.6 679.9V692.9M394.35 679.9V687.4M424.62 679.9V687.4M446.09 679.9V687.4M462.75 679.9V687.4M476.36 679.9V687.4M487.87 679.9V687.4M497.84 679.9V687.4M506.63 679.9V687.4M514.5 679.9V692.9M566.25 679.9V687.4M596.52 679.9V687.4M617.99 679.9V687.4M634.65 679.9V687.4M648.26 679.9V687.4M659.77 679.9V687.4M669.74 679.9V687.4M678.53 679.9V687.4M686.4 679.9V692.9M738.15 679.9V687.4M768.42 679.9V687.4M789.89 679.9V687.4M806.55 679.9V687.4M820.16 679.9V687.4M831.67 679.9V687.4M841.64 679.9V687.4M850.43 679.9V687.4M858.3 679.9V692.9" stroke="#5c5c5c" stroke-width="3.3" fill="none"/>
<text transform="translate(152.7 690.8) scale(1 1.06)" font-size="34.3" fill="#1e1e1e" stroke="#1e1e1e" stroke-width="1.5" text-anchor="end">0</text>
<text transform="translate(152.7 589.7) scale(1 1.06)" font-size="34.3" fill="#1e1e1e" stroke="#1e1e1e" stroke-width="1.5" text-anchor="end">5</text>
<text transform="translate(152.7 488.6) scale(1 1.06)" font-size="34.3" fill="#1e1e1e" stroke="#1e1e1e" stroke-width="1.5" text-anchor="end">10</text>
<text transform="translate(152.7 387.5) scale(1 1.06)" font-size="34.3" fill="#1e1e1e" stroke="#1e1e1e" stroke-width="1.5" text-anchor="end">15</text>
<text transform="translate(152.7 286.4) scale(1 1.06)" font-size="34.3" fill="#1e1e1e" stroke="#1e1e1e" stroke-width="1.5" text-anchor="end">20</text>
<text transform="translate(152.7 185.3) scale(1 1.06)" font-size="34.3" fill="#1e1e1e" stroke="#1e1e1e" stroke-width="1.5" text-anchor="end">25</text>
<text transform="translate(152.7 84.2) scale(1 1.06)" font-size="34.3" fill="#1e1e1e" stroke="#1e1e1e" stroke-width="1.5" text-anchor="end">30</text>
<text transform="translate(169.4 727.9) scale(1 1.06)" font-size="34.3" fill="#1e1e1e" stroke="#1e1e1e" stroke-width="1.5" text-anchor="middle">1</text>
<text transform="translate(342.6 727.9) scale(1 1.06)" font-size="34.3" fill="#1e1e1e" stroke="#1e1e1e" stroke-width="1.5" text-anchor="middle">10</text>
<text transform="translate(515.4 727.9) scale(1 1.06)" font-size="34.3" fill="#1e1e1e" stroke="#1e1e1e" stroke-width="1.5" text-anchor="middle">100</text>
<text transform="translate(685.9 727.9) scale(1 1.06)" font-size="34.3" fill="#1e1e1e" stroke="#1e1e1e" stroke-width="1.5" text-anchor="middle">1000</text>
<text transform="translate(447.5 770.3) scale(1 0.96)" font-size="42" fill="#1e1e1e" stroke="#1e1e1e" stroke-width="1.2"><tspan font-style="italic">d</tspan><tspan font-size="23" dy="14.5" dx="1.5" stroke-width="1.6">H</tspan><tspan dy="-14.5"> / nm</tspan></text>
<text transform="translate(98.5 485) rotate(-90) scale(1 1.06)" font-size="42" fill="#1e1e1e" stroke="#1e1e1e" stroke-width="1.2">Volume / %</text>
<text transform="translate(474 109.5) scale(1 0.92)" font-size="42" fill="#0c0c0c" stroke="#0c0c0c" stroke-width="1" font-weight="bold">Milli-Q</text>
</g>
<g>
<path d="M945.7 578.8H955.7M945.7 477.7H955.7M945.7 376.6H955.7M945.7 275.5H955.7M945.7 174.4H955.7M945.7 73.3H955.7M1007.45 679.9V687.4M1037.72 679.9V687.4M1059.19 679.9V687.4M1075.85 679.9V687.4M1089.46 679.9V687.4M1100.97 679.9V687.4M1110.94 679.9V687.4M1119.73 679.9V687.4M1127.6 679.9V692.9M1179.35 679.9V687.4M1209.62 679.9V687.4M1231.09 679.9V687.4M1247.75 679.9V687.4M1261.36 679.9V687.4M1272.87 679.9V687.4M1282.84 679.9V687.4M1291.63 679.9V687.4M1299.5 679.9V692.9M1351.25 679.9V687.4M1381.52 679.9V687.4M1402.99 679.9V687.4M1419.65 679.9V687.4M1433.26 679.9V687.4M1444.77 679.9V687.4M1454.74 679.9V687.4M1463.53 679.9V687.4M1471.4 679.9V692.9M1523.15 679.9V687.4M1553.42 679.9V687.4M1574.89 679.9V687.4M1591.55 679.9V687.4M1605.16 679.9V687.4M1616.67 679.9V687.4M1626.64 679.9V687.4M1635.43 679.9V687.4M1643.3 679.9V692.9" stroke="#5c5c5c" stroke-width="3.3" fill="none"/>
<text transform="translate(937.7 690.8) scale(1 1.06)" font-size="34.3" fill="#1e1e1e" stroke="#1e1e1e" stroke-width="1.5" text-anchor="end">0</text>
<text transform="translate(937.7 589.7) scale(1 1.06)" font-size="34.3" fill="#1e1e1e" stroke="#1e1e1e" stroke-width="1.5" text-anchor="end">5</text>
<text transform="translate(937.7 488.6) scale(1 1.06)" font-size="34.3" fill="#1e1e1e" stroke="#1e1e1e" stroke-width="1.5" text-anchor="end">10</text>
<text transform="translate(937.7 387.5) scale(1 1.06)" font-size="34.3" fill="#1e1e1e" stroke="#1e1e1e" stroke-width="1.5" text-anchor="end">15</text>
<text transform="translate(937.7 286.4) scale(1 1.06)" font-size="34.3" fill="#1e1e1e" stroke="#1e1e1e" stroke-width="1.5" text-anchor="end">20</text>
<text transform="translate(937.7 185.3) scale(1 1.06)" font-size="34.3" fill="#1e1e1e" stroke="#1e1e1e" stroke-width="1.5" text-anchor="end">25</text>
<text transform="translate(937.7 84.2) scale(1 1.06)" font-size="34.3" fill="#1e1e1e" stroke="#1e1e1e" stroke-width="1.5" text-anchor="end">30</text>
<text transform="translate(954.4 727.9) scale(1 1.06)" font-size="34.3" fill="#1e1e1e" stroke="#1e1e1e" stroke-width="1.5" text-anchor="middle">1</text>
<text transform="translate(1127.6 727.9) scale(1 1.06)" font-size="34.3" fill="#1e1e1e" stroke="#1e1e1e" stroke-width="1.5" text-anchor="middle">10</text>
<text transform="translate(1300.4 727.9) scale(1 1.06)" font-size="34.3" fill="#1e1e1e" stroke="#1e1e1e" stroke-width="1.5" text-anchor="middle">100</text>
<text transform="translate(1470.9 727.9) scale(1 1.06)" font-size="34.3" fill="#1e1e1e" stroke="#1e1e1e" stroke-width="1.5" text-anchor="middle">1000</text>
<text transform="translate(1232.5 770.3) scale(1 0.96)" font-size="42" fill="#1e1e1e" stroke="#1e1e1e" stroke-width="1.2"><tspan font-style="italic">d</tspan><tspan font-size="23" dy="14.5" dx="1.5" stroke-width="1.6">H</tspan><tspan dy="-14.5"> / nm</tspan></text>
<text transform="translate(883.5 485) rotate(-90) scale(1 1.06)" font-size="42" fill="#1e1e1e" stroke="#1e1e1e" stroke-width="1.2">Volume / %</text>
<text transform="translate(1262.5 112.6) scale(1 0.96)" font-size="44" fill="#0c0c0c" stroke="#0c0c0c" stroke-width="1" font-weight="bold">10 min</text>
</g>
<g>
<path d="M160.7 1326.8H170.7M160.7 1225.7H170.7M160.7 1124.6H170.7M160.7 1023.5H170.7M160.7 922.4H170.7M160.7 821.3H170.7M222.45 1427.9V1435.4M252.72 1427.9V1435.4M274.19 1427.9V1435.4M290.85 1427.9V1435.4M304.46 1427.9V1435.4M315.97 1427.9V1435.4M325.94 1427.9V1435.4M334.73 1427.9V1435.4M342.6 1427.9V1440.9M394.35 1427.9V1435.4M424.62 1427.9V1435.4M446.09 1427.9V1435.4M462.75 1427.9V1435.4M476.36 1427.9V1435.4M487.87 1427.9V1435.4M497.84 1427.9V1435.4M506.63 1427.9V1435.4M514.5 1427.9V1440.9M566.25 1427.9V1435.4M596.52 1427.9V1435.4M617.99 1427.9V1435.4M634.65 1427.9V1435.4M648.26 1427.9V1435.4M659.77 1427.9V1435.4M669.74 1427.9V1435.4M678.53 1427.9V1435.4M686.4 1427.9V1440.9M738.15 1427.9V1435.4M768.42 1427.9V1435.4M789.89 1427.9V1435.4M806.55 1427.9V1435.4M820.16 1427.9V1435.4M831.67 1427.9V1435.4M841.64 1427.9V1435.4M850.43 1427.9V1435.4M858.3 1427.9V1440.9" stroke="#5c5c5c" stroke-width="3.3" fill="none"/>
<text transform="translate(152.7 1438.8) scale(1 1.06)" font-size="34.3" fill="#1e1e1e" stroke="#1e1e1e" stroke-width="1.5" text-anchor="end">0</text>
<text transform="translate(152.7 1337.7) scale(1 1.06)" font-size="34.3" fill="#1e1e1e" stroke="#1e1e1e" stroke-width="1.5" text-anchor="end">5</text>
<text transform="translate(152.7 1236.6) scale(1 1.06)" font-size="34.3" fill="#1e1e1e" stroke="#1e1e1e" stroke-width="1.5" text-anchor="end">10</text>
<text transform="translate(152.7 1135.5) scale(1 1.06)" font-size="34.3" fill="#1e1e1e" stroke="#1e1e1e" stroke-width="1.5" text-anchor="end">15</text>
<text transform="translate(152.7 1034.4) scale(1 1.06)" font-size="34.3" fill="#1e1e1e" stroke="#1e1e1e" stroke-width="1.5" text-anchor="end">20</text>
<text transform="translate(152.7 933.3) scale(1 1.06)" font-size="34.3" fill="#1e1e1e" stroke="#1e1e1e" stroke-width="1.5" text-anchor="end">25</text>
<text transform="translate(152.7 832.2) scale(1 1.06)" font-size="34.3" fill="#1e1e1e" stroke="#1e1e1e" stroke-width="1.5" text-anchor="end">30</text>
<text transform="translate(169.4 1475.9) scale(1 1.06)" font-size="34.3" fill="#1e1e1e" stroke="#1e1e1e" stroke-width="1.5" text-anchor="middle">1</text>
<text transform="translate(342.6 1475.9) scale(1 1.06)" font-size="34.3" fill="#1e1e1e" stroke="#1e1e1e" stroke-width="1.5" text-anchor="middle">10</text>
<text transform="translate(515.4 1475.9) scale(1 1.06)" font-size="34.3" fill="#1e1e1e" stroke="#1e1e1e" stroke-width="1.5" text-anchor="middle">100</text>
<text transform="translate(685.9 1475.9) scale(1 1.06)" font-size="34.3" fill="#1e1e1e" stroke="#1e1e1e" stroke-width="1.5" text-anchor="middle">1000</text>
<text transform="translate(447.5 1518.3) scale(1 0.96)" font-size="42" fill="#1e1e1e" stroke="#1e1e1e" stroke-width="1.2"><tspan font-style="italic">d</tspan><tspan font-size="23" dy="14.5" dx="1.5" stroke-width="1.6">H</tspan><tspan dy="-14.5"> / nm</tspan></text>
<text transform="translate(98.5 1233) rotate(-90) scale(1 1.06)" font-size="42" fill="#1e1e1e" stroke="#1e1e1e" stroke-width="1.2">Volume / %</text>
<text transform="translate(473.5 855.1) scale(1 0.9)" font-size="42" fill="#0c0c0c" stroke="#0c0c0c" stroke-width="1" font-weight="bold">1 h</text>
</g>
<g>
<path d="M945.7 1326.8H955.7M945.7 1225.7H955.7M945.7 1124.6H955.7M945.7 1023.5H955.7M945.7 922.4H955.7M945.7 821.3H955.7M1007.45 1427.9V1435.4M1037.72 1427.9V1435.4M1059.19 1427.9V1435.4M1075.85 1427.9V1435.4M1089.46 1427.9V1435.4M1100.97 1427.9V1435.4M1110.94 1427.9V1435.4M1119.73 1427.9V1435.4M1127.6 1427.9V1440.9M1179.35 1427.9V1435.4M1209.62 1427.9V1435.4M1231.09 1427.9V1435.4M1247.75 1427.9V1435.4M1261.36 1427.9V1435.4M1272.87 1427.9V1435.4M1282.84 1427.9V1435.4M1291.63 1427.9V1435.4M1299.5 1427.9V1440.9M1351.25 1427.9V1435.4M1381.52 1427.9V1435.4M1402.99 1427.9V1435.4M1419.65 1427.9V1435.4M1433.26 1427.9V1435.4M1444.77 1427.9V1435.4M1454.74 1427.9V1435.4M1463.53 1427.9V1435.4M1471.4 1427.9V1440.9M1523.15 1427.9V1435.4M1553.42 1427.9V1435.4M1574.89 1427.9V1435.4M1591.55 1427.9V1435.4M1605.16 1427.9V1435.4M1616.67 1427.9V1435.4M1626.64 1427.9V1435.4M1635.43 1427.9V1435.4M1643.3 1427.9V1440.9" stroke="#5c5c5c" stroke-width="3.3" fill="none"/>
<text transform="translate(937.7 1438.8) scale(1 1.06)" font-size="34.3" fill="#1e1e1e" stroke="#1e1e1e" stroke-width="1.5" text-anchor="end">0</text>
<text transform="translate(937.7 1337.7) scale(1 1.06)" font-size="34.3" fill="#1e1e1e" stroke="#1e1e1e" stroke-width="1.5" text-anchor="end">5</text>
<text transform="translate(937.7 1236.6) scale(1 1.06)" font-size="34.3" fill="#1e1e1e" stroke="#1e1e1e" stroke-width="1.5" text-anchor="end">10</text>
<text transform="translate(937.7 1135.5) scale(1 1.06)" font-size="34.3" fill="#1e1e1e" stroke="#1e1e1e" stroke-width="1.5" text-anchor="end">15</text>
<text transform="translate(937.7 1034.4) scale(1 1.06)" font-size="34.3" fill="#1e1e1e" stroke="#1e1e1e" stroke-width="1.5" text-anchor="end">20</text>
<text transform="translate(937.7 933.3) scale(1 1.06)" font-size="34.3" fill="#1e1e1e" stroke="#1e1e1e" stroke-width="1.5" text-anchor="end">25</text>
<text transform="translate(937.7 832.2) scale(1 1.06)" font-size="34.3" fill="#1e1e1e" stroke="#1e1e1e" stroke-width="1.5" text-anchor="end">30</text>
<text transform="translate(954.4 1475.9) scale(1 1.06)" font-size="34.3" fill="#1e1e1e" stroke="#1e1e1e" stroke-width="1.5" text-anchor="middle">1</text>
<text transform="translate(1127.6 1475.9) scale(1 1.06)" font-size="34.3" fill="#1e1e1e" stroke="#1e1e1e" stroke-width="1.5" text-anchor="middle">10</text>
<text transform="translate(1300.4 1475.9) scale(1 1.06)" font-size="34.3" fill="#1e1e1e" stroke="#1e1e1e" stroke-width="1.5" text-anchor="middle">100</text>
<text transform="translate(1470.9 1475.9) scale(1 1.06)" font-size="34.3" fill="#1e1e1e" stroke="#1e1e1e" stroke-width="1.5" text-anchor="middle">1000</text>
<text transform="translate(1232.5 1518.3) scale(1 0.96)" font-size="42" fill="#1e1e1e" stroke="#1e1e1e" stroke-width="1.2"><tspan font-style="italic">d</tspan><tspan font-size="23" dy="14.5" dx="1.5" stroke-width="1.6">H</tspan><tspan dy="-14.5"> / nm</tspan></text>
<text transform="translate(883.5 1233) rotate(-90) scale(1 1.06)" font-size="42" fill="#1e1e1e" stroke="#1e1e1e" stroke-width="1.2">Volume / %</text>
<text transform="translate(1259 855.9) scale(1 0.9)" font-size="42" fill="#0c0c0c" stroke="#0c0c0c" stroke-width="1" font-weight="bold">4 h</text>
</g>
<g>
<path d="M160.7 2074.8H170.7M160.7 1973.7H170.7M160.7 1872.6H170.7M160.7 1771.5H170.7M160.7 1670.4H170.7M160.7 1569.3H170.7M222.45 2175.9V2183.4M252.72 2175.9V2183.4M274.19 2175.9V2183.4M290.85 2175.9V2183.4M304.46 2175.9V2183.4M315.97 2175.9V2183.4M325.94 2175.9V2183.4M334.73 2175.9V2183.4M342.6 2175.9V2188.9M394.35 2175.9V2183.4M424.62 2175.9V2183.4M446.09 2175.9V2183.4M462.75 2175.9V2183.4M476.36 2175.9V2183.4M487.87 2175.9V2183.4M497.84 2175.9V2183.4M506.63 2175.9V2183.4M514.5 2175.9V2188.9M566.25 2175.9V2183.4M596.52 2175.9V2183.4M617.99 2175.9V2183.4M634.65 2175.9V2183.4M648.26 2175.9V2183.4M659.77 2175.9V2183.4M669.74 2175.9V2183.4M678.53 2175.9V2183.4M686.4 2175.9V2188.9M738.15 2175.9V2183.4M768.42 2175.9V2183.4M789.89 2175.9V2183.4M806.55 2175.9V2183.4M820.16 2175.9V2183.4M831.67 2175.9V2183.4M841.64 2175.9V2183.4M850.43 2175.9V2183.4M858.3 2175.9V2188.9" stroke="#5c5c5c" stroke-width="3.3" fill="none"/>
<text transform="translate(152.7 2186.8) scale(1 1.06)" font-size="34.3" fill="#1e1e1e" stroke="#1e1e1e" stroke-width="1.5" text-anchor="end">0</text>
<text transform="translate(152.7 2085.7) scale(1 1.06)" font-size="34.3" fill="#1e1e1e" stroke="#1e1e1e" stroke-width="1.5" text-anchor="end">5</text>
<text transform="translate(152.7 1984.6) scale(1 1.06)" font-size="34.3" fill="#1e1e1e" stroke="#1e1e1e" stroke-width="1.5" text-anchor="end">10</text>
<text transform="translate(152.7 1883.5) scale(1 1.06)" font-size="34.3" fill="#1e1e1e" stroke="#1e1e1e" stroke-width="1.5" text-anchor="end">15</text>
<text transform="translate(152.7 1782.4) scale(1 1.06)" font-size="34.3" fill="#1e1e1e" stroke="#1e1e1e" stroke-width="1.5" text-anchor="end">20</text>
<text transform="translate(152.7 1681.3) scale(1 1.06)" font-size="34.3" fill="#1e1e1e" stroke="#1e1e1e" stroke-width="1.5" text-anchor="end">25</text>
<text transform="translate(152.7 1580.2) scale(1 1.06)" font-size="34.3" fill="#1e1e1e" stroke="#1e1e1e" stroke-width="1.5" text-anchor="end">30</text>
<text transform="translate(169.4 2223.9) scale(1 1.06)" font-size="34.3" fill="#1e1e1e" stroke="#1e1e1e" stroke-width="1.5" text-anchor="middle">1</text>
<text transform="translate(342.6 2223.9) scale(1 1.06)" font-size="34.3" fill="#1e1e1e" stroke="#1e1e1e" stroke-width="1.5" text-anchor="middle">10</text>
<text transform="translate(515.4 2223.9) scale(1 1.06)" font-size="34.3" fill="#1e1e1e" stroke="#1e1e1e" stroke-width="1.5" text-anchor="middle">100</text>
<text transform="translate(685.9 2223.9) scale(1 1.06)" font-size="34.3" fill="#1e1e1e" stroke="#1e1e1e" stroke-width="1.5" text-anchor="middle">1000</text>
<text transform="translate(447.5 2266.3) scale(1 0.96)" font-size="42" fill="#1e1e1e" stroke="#1e1e1e" stroke-width="1.2"><tspan font-style="italic">d</tspan><tspan font-size="23" dy="14.5" dx="1.5" stroke-width="1.6">H</tspan><tspan dy="-14.5"> / nm</tspan></text>
<text transform="translate(98.5 1981) rotate(-90) scale(1 1.06)" font-size="42" fill="#1e1e1e" stroke="#1e1e1e" stroke-width="1.2">Volume / %</text>
<text transform="translate(473 1605.5) scale(1 0.95)" font-size="42" fill="#0c0c0c" stroke="#0c0c0c" stroke-width="1" font-weight="bold">24 h</text>
</g>
<g>
<path d="M945.7 2074.8H955.7M945.7 1973.7H955.7M945.7 1872.6H955.7M945.7 1771.5H955.7M945.7 1670.4H955.7M945.7 1569.3H955.7M1007.45 2175.9V2183.4M1037.72 2175.9V2183.4M1059.19 2175.9V2183.4M1075.85 2175.9V2183.4M1089.46 2175.9V2183.4M1100.97 2175.9V2183.4M1110.94 2175.9V2183.4M1119.73 2175.9V2183.4M1127.6 2175.9V2188.9M1179.35 2175.9V2183.4M1209.62 2175.9V2183.4M1231.09 2175.9V2183.4M1247.75 2175.9V2183.4M1261.36 2175.9V2183.4M1272.87 2175.9V2183.4M1282.84 2175.9V2183.4M1291.63 2175.9V2183.4M1299.5 2175.9V2188.9M1351.25 2175.9V2183.4M1381.52 2175.9V2183.4M1402.99 2175.9V2183.4M1419.65 2175.9V2183.4M1433.26 2175.9V2183.4M1444.77 2175.9V2183.4M1454.74 2175.9V2183.4M1463.53 2175.9V2183.4M1471.4 2175.9V2188.9M1523.15 2175.9V2183.4M1553.42 2175.9V2183.4M1574.89 2175.9V2183.4M1591.55 2175.9V2183.4M1605.16 2175.9V2183.4M1616.67 2175.9V2183.4M1626.64 2175.9V2183.4M1635.43 2175.9V2183.4M1643.3 2175.9V2188.9" stroke="#5c5c5c" stroke-width="3.3" fill="none"/>
<text transform="translate(937.7 2186.8) scale(1 1.06)" font-size="34.3" fill="#1e1e1e" stroke="#1e1e1e" stroke-width="1.5" text-anchor="end">0</text>
<text transform="translate(937.7 2085.7) scale(1 1.06)" font-size="34.3" fill="#1e1e1e" stroke="#1e1e1e" stroke-width="1.5" text-anchor="end">5</text>
<text transform="translate(937.7 1984.6) scale(1 1.06)" font-size="34.3" fill="#1e1e1e" stroke="#1e1e1e" stroke-width="1.5" text-anchor="end">10</text>
<text transform="translate(937.7 1883.5) scale(1 1.06)" font-size="34.3" fill="#1e1e1e" stroke="#1e1e1e" stroke-width="1.5" text-anchor="end">15</text>
<text transform="translate(937.7 1782.4) scale(1 1.06)" font-size="34.3" fill="#1e1e1e" stroke="#1e1e1e" stroke-width="1.5" text-anchor="end">20</text>
<text transform="translate(937.7 1681.3) scale(1 1.06)" font-size="34.3" fill="#1e1e1e" stroke="#1e1e1e" stroke-width="1.5" text-anchor="end">25</text>
<text transform="translate(937.7 1580.2) scale(1 1.06)" font-size="34.3" fill="#1e1e1e" stroke="#1e1e1e" stroke-width="1.5" text-anchor="end">30</text>
<text transform="translate(954.4 2223.9) scale(1 1.06)" font-size="34.3" fill="#1e1e1e" stroke="#1e1e1e" stroke-width="1.5" text-anchor="middle">1</text>
<text transform="translate(1127.6 2223.9) scale(1 1.06)" font-size="34.3" fill="#1e1e1e" stroke="#1e1e1e" stroke-width="1.5" text-anchor="middle">10</text>
<text transform="translate(1300.4 2223.9) scale(1 1.06)" font-size="34.3" fill="#1e1e1e" stroke="#1e1e1e" stroke-width="1.5" text-anchor="middle">100</text>
<text transform="translate(1470.9 2223.9) scale(1 1.06)" font-size="34.3" fill="#1e1e1e" stroke="#1e1e1e" stroke-width="1.5" text-anchor="middle">1000</text>
<text transform="translate(1232.5 2266.3) scale(1 0.96)" font-size="42" fill="#1e1e1e" stroke="#1e1e1e" stroke-width="1.2"><tspan font-style="italic">d</tspan><tspan font-size="23" dy="14.5" dx="1.5" stroke-width="1.6">H</tspan><tspan dy="-14.5"> / nm</tspan></text>
<text transform="translate(883.5 1981) rotate(-90) scale(1 1.06)" font-size="42" fill="#1e1e1e" stroke="#1e1e1e" stroke-width="1.2">Volume / %</text>
<text transform="translate(1260.4 1606.1) scale(1 0.97)" font-size="41" fill="#0c0c0c" stroke="#0c0c0c" stroke-width="1" font-weight="bold">48 h</text>
</g>
</g>
<g class="med">
<text transform="translate(857.9 727.3) scale(1 1)" font-size="32" fill="#101010" stroke="#101010" stroke-width="0.9" text-anchor="middle" font-weight="bold">10,000</text>
<text transform="translate(1630.5 731.5) scale(1 1)" font-size="32" fill="#101010" stroke="#101010" stroke-width="0.9" text-anchor="middle" font-weight="bold">10,000</text>
<text transform="translate(857.9 1471.4) scale(1 1)" font-size="32" fill="#101010" stroke="#101010" stroke-width="0.9" text-anchor="middle" font-weight="bold">10,000</text>
<text transform="translate(1627.6 1470.9) scale(1 1)" font-size="32" fill="#101010" stroke="#101010" stroke-width="0.9" text-anchor="middle" font-weight="bold">10,000</text>
<text transform="translate(857.9 2219.4) scale(1 1)" font-size="32" fill="#101010" stroke="#101010" stroke-width="0.9" text-anchor="middle" font-weight="bold">10,000</text>
<text transform="translate(1629.7 2219.5) scale(1 1)" font-size="32" fill="#101010" stroke="#101010" stroke-width="0.9" text-anchor="middle" font-weight="bold">10,000</text>
</g>
<g class="crisp">
<text transform="translate(38 110.5) scale(1 1.04)" font-size="77" fill="#080808" stroke="#080808" stroke-width="0.7">A</text>
<text transform="translate(823 110.5) scale(1 1.04)" font-size="77" fill="#080808" stroke="#080808" stroke-width="0.7">B</text>
<text transform="translate(38 858.5) scale(1 1.04)" font-size="77" fill="#080808" stroke="#080808" stroke-width="0.7">C</text>
<text transform="translate(823 858.5) scale(1 1.04)" font-size="77" fill="#080808" stroke="#080808" stroke-width="0.7">D</text>
<text transform="translate(38 1606.5) scale(1 1.04)" font-size="77" fill="#080808" stroke="#080808" stroke-width="0.7">E</text>
<text transform="translate(823 1606.5) scale(1 1.04)" font-size="77" fill="#080808" stroke="#080808" stroke-width="0.7">F</text>
</g>
</svg>
</body></html>
